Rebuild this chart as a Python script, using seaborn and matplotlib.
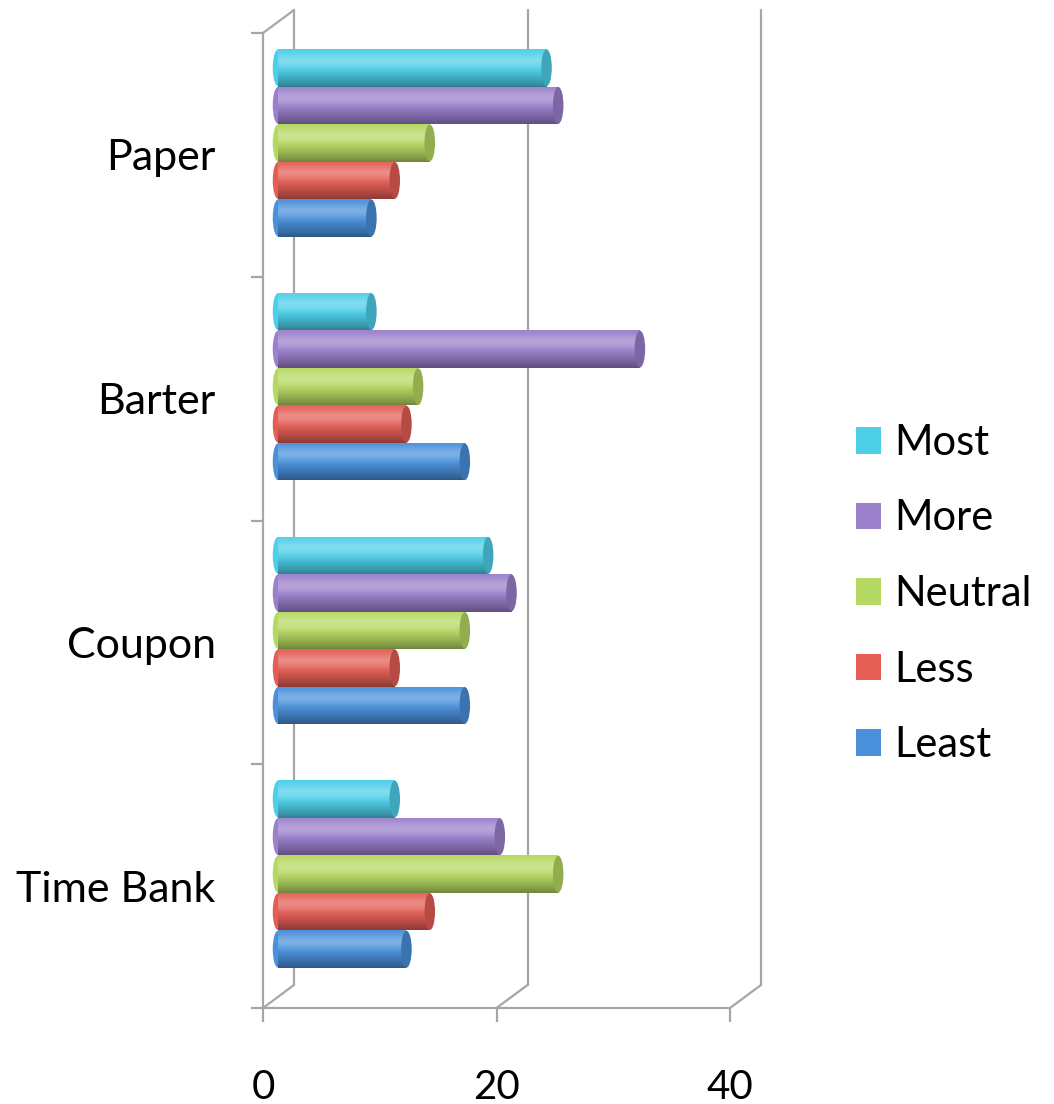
import numpy as np
import pandas as pd
import matplotlib
matplotlib.use("Agg")
import matplotlib.pyplot as plt
import seaborn as sns
from matplotlib.patches import Ellipse, ConnectionPatch
from matplotlib.transforms import offset_copy
import matplotlib.colors as mcolors

categories = ["Paper", "Barter", "Coupon", "Time Bank"]
levels = ["Most", "More", "Neutral", "Less", "Least"]
most = [23, 8, 18, 10]
more = [24, 31, 20, 19]
neutral = [13, 12, 16, 24]
less = [10, 11, 10, 13]
least = [8, 16, 16, 11]
colors = ["#4dcfe8", "#9b80cc", "#b5d862", "#e45e56", "#4a90da"]
x_ticks = [0, 20, 40]

series = {"Most": most, "More": more, "Neutral": neutral, "Less": less, "Least": least}
rows = []
for lvl in levels:
    for c, v in zip(categories, series[lvl]):
        rows.append({"Category": c, "Level": lvl, "Value": v})
df = pd.DataFrame(rows)

sns.set_theme(style="white")
plt.rcParams["font.family"] = ["Lato", "DejaVu Sans"]
plt.rcParams["text.color"] = "black"
plt.rcParams["xtick.labelcolor"] = "black"
plt.rcParams["ytick.labelcolor"] = "black"

W, H = 1054, 1104
fig = plt.figure(figsize=(W / 100, H / 100), dpi=100)
ax = fig.add_axes([263 / W, 1 - 1008 / H, (730 - 263) / W, (1008 - 33) / H])

sns.barplot(data=df, y="Category", x="Value", hue="Level", order=categories,
            hue_order=levels, palette=colors, orient="h", width=0.77,
            saturation=1, edgecolor="none", errorbar=None, ax=ax)

ax.set_xlim(0, 40)
ylim = (len(categories) - 0.5, -0.5)
ax.set_ylim(*ylim)

# 3D depth: bars sit a little behind the front axis plane
depth = offset_copy(ax.transData, fig=fig, x=15, y=12, units="dots")

# cylinder-like shading on each bar
n = 64
t = np.linspace(0, 1, n)
white = np.zeros((n, 1, 4)); white[..., :3] = 1.0
white[:, 0, 3] = 0.28 * np.exp(-((t - 0.3) / 0.2) ** 2)
black = np.zeros((n, 1, 4))
black[:, 0, 3] = 0.38 * np.clip((t - 0.45) / 0.55, 0, 1) ** 1.4
bars = list(ax.patches)
for p in bars:
    p.set_transform(depth)
    x0, y0, w, h = p.get_x(), p.get_y(), p.get_width(), p.get_height()
    fc = p.get_facecolor()
    lcap = Ellipse((x0, y0 + h / 2), width=0.9, height=h * 0.98, transform=depth,
                   facecolor=fc, edgecolor="none", zorder=p.get_zorder() - 0.1)
    ax.add_patch(lcap)
    for img in (white, black):
        im = ax.imshow(img, extent=[x0, x0 + w, y0 + h, y0], origin="upper",
                       aspect="auto", zorder=p.get_zorder() + 0.1, interpolation="bilinear")
        im.set_transform(depth)
        im.set_clip_path(p)
    dark = tuple(np.array(mcolors.to_rgb(fc)) * 0.8)
    cap = Ellipse((x0 + w, y0 + h / 2), width=0.9, height=h * 0.98, transform=depth,
                  facecolor=dark, edgecolor="none", zorder=p.get_zorder() + 0.2)
    ax.add_patch(cap)
ax.set_xlim(0, 40)
ax.set_ylim(*ylim)

grey = "#a6a6a6"
for s in ["top", "right"]:
    ax.spines[s].set_visible(False)
for s in ["left", "bottom"]:
    ax.spines[s].set_color(grey)
    ax.spines[s].set_linewidth(1.6)

ax.set_xticks(x_ticks)
ax.set_xticklabels([str(v) for v in x_ticks])
ax.tick_params(axis="x", direction="out", length=10, width=1.6, color=grey,
               pad=34, labelsize=29, bottom=True, labelcolor="black")
ax.set_yticks(range(len(categories)))
ax.set_yticklabels(categories)
ax.set_yticks(np.arange(-0.5, len(categories), 1), minor=True)
ax.tick_params(axis="y", which="major", length=0, pad=34, labelsize=31, labelcolor="black")
ax.tick_params(axis="y", which="minor", direction="out", length=9, width=1.6,
               color=grey, left=True)
ax.set_xlabel("")
ax.set_ylabel("")

# 3D back wall lines and depth connectors
back = offset_copy(ax.get_xaxis_transform(), fig=fig, x=31, y=23, units="dots")
for v in x_ticks:
    ax.plot([v, v], [0, 1], transform=back, color=grey, lw=1.6, clip_on=False, zorder=0)
    con = ConnectionPatch(xyA=(v, 0), coordsA=ax.get_xaxis_transform(),
                          xyB=(v, 0), coordsB=back, color=grey, lw=1.6)
    fig.add_artist(con)
con = ConnectionPatch(xyA=(0, 1), coordsA=ax.get_xaxis_transform(),
                      xyB=(0, 1), coordsB=back, color=grey, lw=1.6)
fig.add_artist(con)

handles, labels = ax.get_legend_handles_labels()
leg = ax.legend(handles, labels, loc="center left", bbox_to_anchor=(818 / W, 1 - 594 / H),
                bbox_transform=fig.transFigure, frameon=False, fontsize=30,
                handlelength=0.6, handleheight=0.6, handletextpad=0.32, labelspacing=0.9)
for txt in leg.get_texts():
    txt.set_color("black")

fig.savefig("out.png", dpi=100)
